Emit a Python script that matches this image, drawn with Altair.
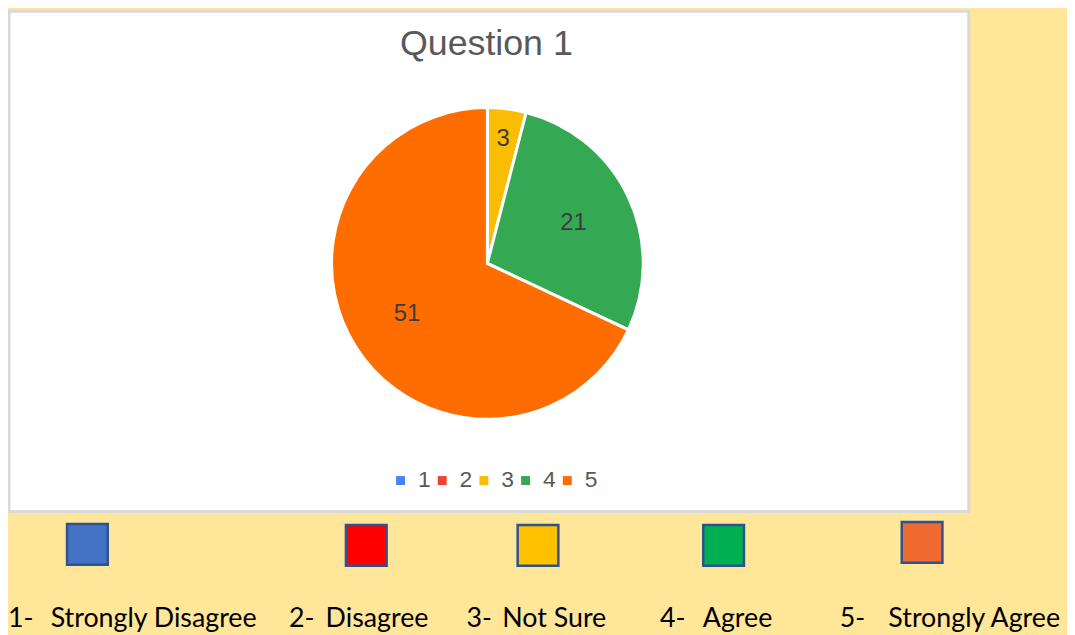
import altair as alt
import pandas as pd

# ---------------- data ----------------
categories = ["1", "2", "3", "4", "5"]
responses = [0, 0, 3, 21, 51]
pie_colors = ["#4285F4", "#EA4335", "#FBBC04", "#34A853", "#FF6D01"]
title_text = ["Question 1"]
key_numbers = ["1-", "2-", "3-", "4-", "5-"]
key_labels = ["Strongly Disagree", "Disagree", "Not Sure", "Agree", "Strongly Agree"]
key_colors = ["#4472C4", "#FF0000", "#FFC000", "#00B050", "#EF6A2F"]

# ---------------- layout (pixels inside the chart) ----------------
W, H = 1067, 627
pie_cx, pie_cy, pie_r = 483, 255, 157
box_cx = [80, 361, 534, 721, 921]
box_cy = [538, 539, 539, 539, 536]
num_x = [0, 283, 462, 657, 838]
lab_x = [43, 320, 498, 700, 887]
text_base_y = 621

pie_df = pd.DataFrame({"category": categories, "value": responses})
key_df = pd.DataFrame({
    "num": key_numbers, "label": key_labels, "color": key_colors,
    "bx": box_cx, "by": box_cy, "nx": num_x, "lx": lab_x,
})

panel = alt.Chart(pd.DataFrame({"k": [0]})).mark_rect(
    fill="white", stroke="#D9D9D9", strokeWidth=3
).encode(x=alt.value(1), x2=alt.value(968), y=alt.value(1), y2=alt.value(505))

base = alt.Chart(pie_df)

arc = base.mark_arc(outerRadius=pie_r, stroke="white", strokeWidth=3).encode(
    theta=alt.Theta("value:Q", stack=True),
    color=alt.Color(
        "category:N",
        scale=alt.Scale(domain=categories, range=pie_colors),
        legend=alt.Legend(
            orient="none", legendX=384, legendY=462, direction="horizontal",
            title=None, symbolType="square", symbolSize=81, symbolStrokeWidth=0,
            labelFontSize=23, labelFont="Liberation Sans", labelColor="#595959",
            labelOffset=6, columnPadding=0,
        ),
    ),
    order=alt.Order("category:N", sort="ascending"),
    x=alt.value(pie_cx), y=alt.value(pie_cy),
)

def slice_labels(test, radius):
    return base.transform_calculate(
        lbl=f"({test}) ? '' + datum.value : ''"
    ).mark_text(font="Liberation Sans", fontSize=24, color="#3C3C3C").encode(
        theta=alt.Theta("value:Q", stack=True),
        radius=alt.value(radius),
        text="lbl:N",
        detail="category:N",
        order=alt.Order("category:N", sort="ascending"),
        x=alt.value(pie_cx), y=alt.value(pie_cy),
    )

small_lbl = slice_labels("datum.value > 0 && datum.value < 10", 126)
big_lbl = slice_labels("datum.value >= 10", 96)

title = alt.Chart(pd.DataFrame({"t": title_text})).mark_text(
    font="Liberation Sans", fontSize=36, color="#595959", baseline="alphabetic"
).encode(text="t:N", x=alt.value(482), y=alt.value(45))

boxes = alt.Chart(key_df).mark_square(
    size=41 * 41, stroke="#2F528F", strokeWidth=2.5, opacity=1
).encode(
    x=alt.X("bx:Q", scale=None, axis=None),
    y=alt.Y("by:Q", scale=None, axis=None),
    fill=alt.Fill("color:N", scale=None),
)

nums = alt.Chart(key_df).mark_text(
    font="Lato", fontSize=27, color="black", align="left", baseline="alphabetic"
).encode(x=alt.X("nx:Q", scale=None, axis=None), y=alt.value(text_base_y), text="num:N")

labs = alt.Chart(key_df).mark_text(
    font="Lato", fontSize=27, color="black", align="left", baseline="alphabetic"
).encode(x=alt.X("lx:Q", scale=None, axis=None), y=alt.value(text_base_y), text="label:N")

chart = alt.layer(panel, arc, small_lbl, big_lbl, title, boxes, nums, labs).properties(
    width=W, height=H, padding=0, background="#FFE699",
    autosize=alt.AutoSizeParams(type="none"),
).configure_view(stroke=None)

chart.save("out.html", embed_options={"renderer": "svg", "actions": False})
